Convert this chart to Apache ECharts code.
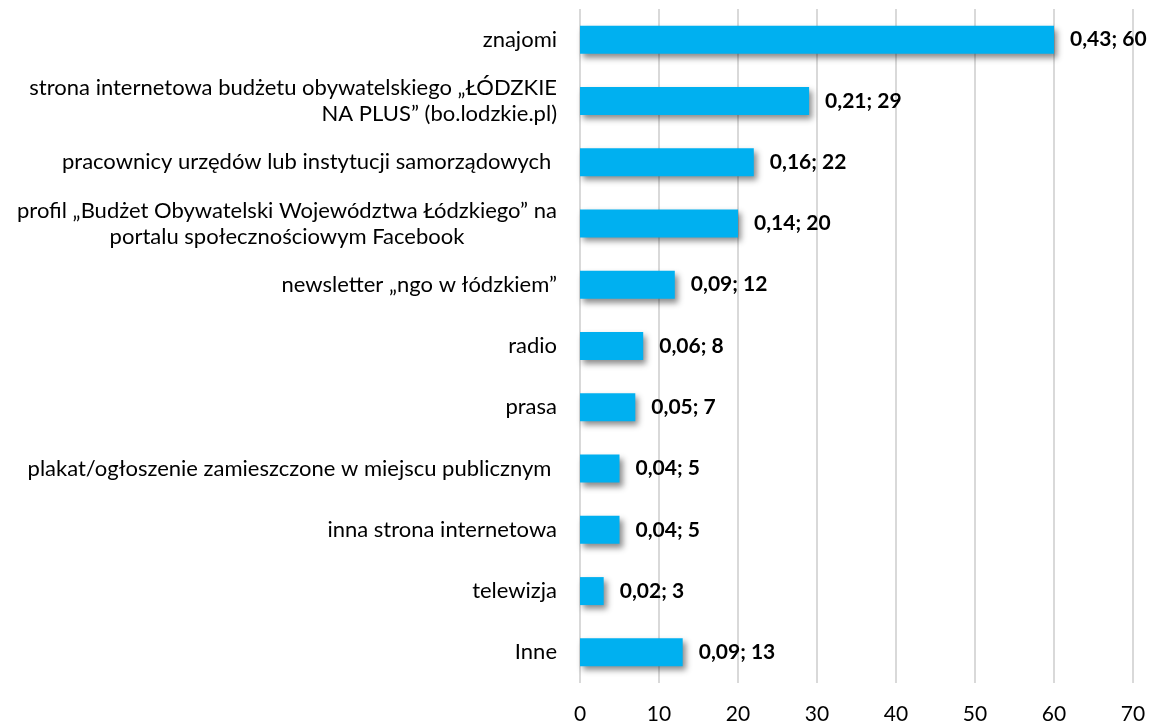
<!DOCTYPE html>
<html>
<head>
<meta charset="utf-8">
<script src="https://cdn.jsdelivr.net/npm/echarts@6/dist/echarts.min.js"></script>
<style>
  html, body { margin: 0; padding: 0; background: #fff; }
  #chart { width: 1154px; height: 725px; }
</style>
</head>
<body>
<div id="chart"></div>
<script>
// categories top to bottom
var categories = [
  'znajomi',
  'strona internetowa budżetu obywatelskiego „ŁÓDZKIE\nNA PLUS” (bo.lodzkie.pl)',
  'pracownicy urzędów lub instytucji samorządowych ',
  '{c|profil „Budżet Obywatelski Województwa Łódzkiego” na}\n{c|portalu społecznościowym Facebook}',
  'newsletter „ngo w łódzkiem”',
  'radio',
  'prasa',
  'plakat/ogłoszenie zamieszczone w miejscu publicznym ',
  'inna strona internetowa',
  'telewizja',
  'Inne'
];
var counts = [60, 29, 22, 20, 12, 8, 7, 5, 5, 3, 13];
var shares = ['0,43', '0,21', '0,16', '0,14', '0,09', '0,06', '0,05', '0,04', '0,04', '0,02', '0,09'];
var xTicks = [0, 10, 20, 30, 40, 50, 60, 70];

var chart = echarts.init(document.getElementById('chart'));
var fontFam = 'Lato';

var option = {
  animation: false,
  grid: {
    left: 580,
    right: 21,
    top: 9,
    bottom: 41
  },
  xAxis: {
    type: 'value',
    min: xTicks[0],
    max: xTicks[xTicks.length - 1],
    interval: 10,
    axisLine: { show: false },
    axisTick: { show: false },
    axisLabel: {
      margin: 21,
      fontSize: 21,
      color: '#000',
      fontFamily: fontFam
    },
    splitLine: { lineStyle: { color: '#d9d9d9', width: 2 } }
  },
  yAxis: {
    type: 'category',
    inverse: true,
    data: categories,
    axisLine: { show: false },
    axisTick: { show: false },
    axisLabel: {
      margin: 23,
      fontSize: 22,
      lineHeight: 26,
      color: '#000',
      fontFamily: fontFam,
      rich: {
        c: { align: 'center', fontSize: 22, lineHeight: 26, fontFamily: fontFam, color: '#000' }
      }
    }
  },
  series: [{
    type: 'bar',
    data: counts,
    barWidth: 28,
    itemStyle: {
      color: '#00B0F0',
      shadowColor: 'rgba(0,0,0,0.45)',
      shadowBlur: 6,
      shadowOffsetX: 3,
      shadowOffsetY: 4
    },
    label: {
      show: true,
      position: 'right',
      distance: 16,
      fontSize: 21,
      fontWeight: 'bold',
      color: '#000',
      fontFamily: fontFam,
      formatter: function (p) { return shares[p.dataIndex] + '; ' + p.value; }
    }
  }]
};

chart.setOption(option);
</script>
</body>
</html>
